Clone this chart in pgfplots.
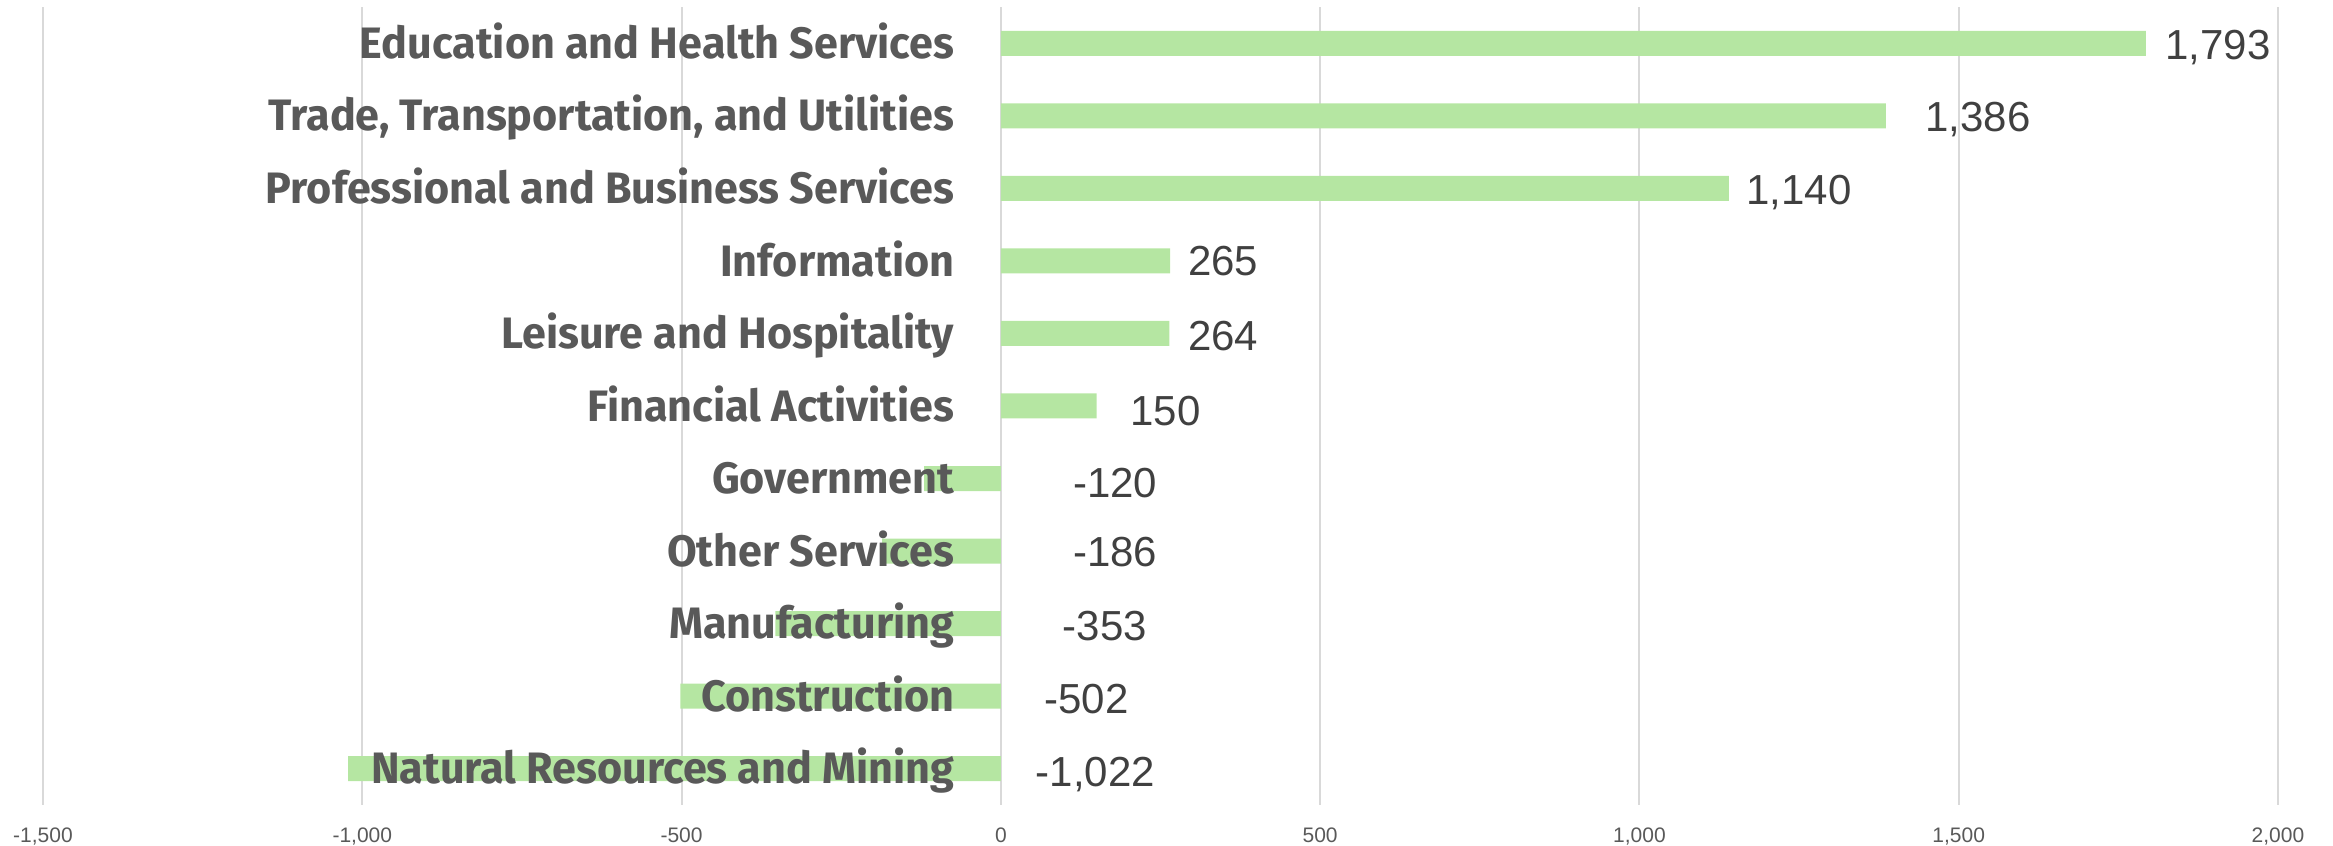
\documentclass[border=0pt]{standalone}
\usepackage{pgfplots}
\pgfplotsset{compat=1.18}
\usepackage{pgfplotstable}
\usepackage{fontspec}
\setmainfont{Liberation Sans}
\newfontfamily\catfont{Fira Sans}[FakeStretch=0.98]
\definecolor{barc}{RGB}{181,230,162}
\definecolor{gridc}{RGB}{217,217,217}
\definecolor{catc}{RGB}{89,89,89}
\definecolor{valc}{RGB}{64,64,64}
\definecolor{tickc}{RGB}{89,89,89}
\pgfplotstableread{
i v lx ly name
0 -1022 148 -0.04 {Natural Resources and Mining}
1 -502 134 0.97 {Construction}
2 -353 163 1.97 {Manufacturing}
3 -186 179 2.99 {Other Services}
4 -120 179 3.94 {Government}
5 150 258 4.94 {Financial Activities}
6 264 348 5.97 {Leisure and Hospitality}
7 265 348 7 {Information}
8 1140 1250 7.98 {Professional and Business Services}
9 1386 1530 8.99 {Trade, Transportation, and Utilities}
10 1793 1906 9.98 {Education and Health Services}
}\data
\begin{document}
\begin{tikzpicture}
\begin{axis}[
  at={(0,0)}, anchor=south west,
  scale only axis, width=670.5pt, height=239.4pt,
  xmin=-1500, xmax=2000, ymin=-0.5, ymax=10.5,
  axis line style={draw=none},
  xtick={-1500,-1000,-500,0,500,1000,1500,2000},
  xmajorgrids, major grid style={color=gridc, line width=0.6pt},
  ytick=\empty,
  major tick length=0pt,
  tick style={draw=none},
  xticklabel style={font=\fontsize{6.3pt}{7.5pt}\selectfont, text=tickc, anchor=base, inner sep=0pt, yshift=-11.4pt},
  /pgf/number format/.cd, 1000 sep={,}, assume math mode=true,
]
\addplot[xbar, bar width=7.5pt, bar shift=0pt, fill=barc, draw=none] table[x=v, y=i] {\data};
\addplot[draw=none, mark=none, nodes near coords, point meta=explicit,
  nodes near coords style={font=\fontsize{12.6pt}{15pt}\selectfont, text=valc, anchor=base, inner sep=0pt, yshift=-4.5pt}]
  table[x=lx, y=ly, meta=v] {\data};
\addplot[draw=none, mark=none, nodes near coords, point meta=explicit symbolic,
  nodes near coords style={font=\catfont\bfseries\fontsize{13.2pt}{15pt}\selectfont, text=catc, anchor=base east, inner sep=0pt, xshift=-13.8pt, yshift=-4.55pt}]
  table[x expr=0, y=i, meta=name] {\data};
\end{axis}
\pgfresetboundingbox
\path[use as bounding box] (-12.9pt,-12.3pt) rectangle (687pt,241.5pt);
\end{tikzpicture}
\end{document}
